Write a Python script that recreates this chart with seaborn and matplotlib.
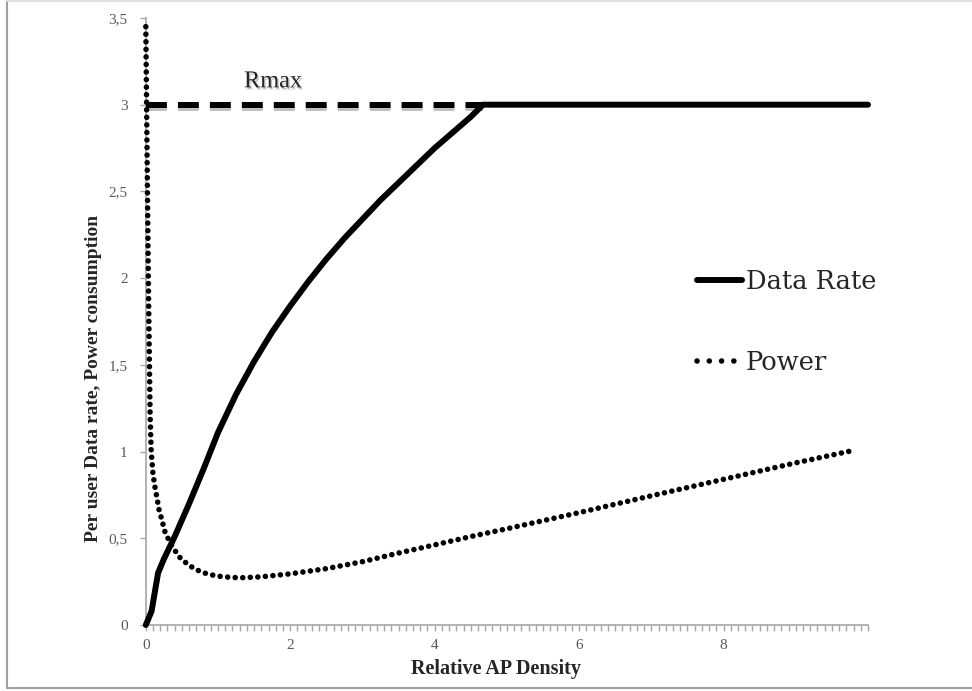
import pandas as pd
import seaborn as sns
import matplotlib.pyplot as plt
import matplotlib.patheffects as pe
from matplotlib.lines import Line2D
from matplotlib.ticker import FixedLocator, MultipleLocator, FixedFormatter

# Values
rate_x = [0.0, 0.08, 0.17, 0.25, 0.4, 0.6, 0.8, 1.0, 1.25, 1.5, 1.75, 2.0, 2.25, 2.5, 2.75,
          3.0, 3.25, 3.5, 3.75, 4.0, 4.25, 4.5, 4.67, 10.0]
rate_y = [0.0, 0.08, 0.30, 0.38, 0.51, 0.70, 0.90, 1.11, 1.33, 1.52, 1.69, 1.84, 1.98, 2.11, 2.23,
          2.34, 2.45, 2.55, 2.65, 2.75, 2.84, 2.93, 3.0, 3.0]

power_x = [0.0, 0.035, 0.06, 0.075, 0.1, 0.125, 0.16, 0.18, 0.22, 0.27, 0.37, 0.47, 0.58, 0.68, 0.78,
           0.88, 0.98, 1.08, 1.18, 1.3, 1.6, 2.0, 2.5, 3.0, 3.5, 4.0, 4.5, 5.0, 6.0, 7.0, 8.0, 9.0, 9.78]
power_y = [3.45, 2.0, 1.2, 1.0, 0.87, 0.80, 0.72, 0.67, 0.61, 0.53, 0.45, 0.39, 0.35, 0.323, 0.304,
           0.292, 0.283, 0.278, 0.275, 0.272, 0.278, 0.295, 0.325, 0.365, 0.415, 0.462, 0.51, 0.555,
           0.648, 0.745, 0.84, 0.935, 1.005]

rmax_x = [0.0, 4.67]
rmax_y = [3.0, 3.0]

x_ticks = [0, 2, 4, 6, 8]
y_ticks = [0, 0.5, 1, 1.5, 2, 2.5, 3, 3.5]
y_tick_labels = ["0", "0,5", "1", "1,5", "2", "2,5", "3", "3,5"]

rate = pd.DataFrame({"x": rate_x, "y": rate_y})
power = pd.DataFrame({"x": power_x, "y": power_y})
rmax = pd.DataFrame({"x": rmax_x, "y": rmax_y})

sns.set_style("white")
plt.rcParams['font.family'] = ['Liberation Serif', 'DejaVu Serif']

fig = plt.figure(figsize=(9.72, 6.91), dpi=100)
ax = fig.add_axes([0.150, 0.0955, 0.743, 0.8785])

# Rmax dashed line with a soft shadow
sns.lineplot(data=rmax, x="x", y="y", ax=ax, color="black", linewidth=4.3,
             linestyle=(0, (3.5, 1.85)), dash_capstyle="butt", clip_on=False,
             path_effects=[pe.SimpleLineShadow(offset=(0, -2.5), shadow_color="#b0b0b0", alpha=0.8),
                           pe.Normal()])

# dots sit on the axis line, so keep them unclipped
sns.lineplot(data=power, x="x", y="y", ax=ax, color="black", linewidth=4.0,
             linestyle=(0, (0.01, 1.35)), dash_capstyle="round", clip_on=False)

sns.lineplot(data=rate, x="x", y="y", ax=ax, color="black", linewidth=4.3,
             solid_joinstyle="round", clip_on=False)

ax.text(1.36, 3.10, "Rmax", fontsize=17.5, va="baseline", ha="left",
        path_effects=[pe.withSimplePatchShadow(offset=(1, -1.5), shadow_rgbFace="#999999", alpha=0.6)])

ax.set_xlim(0, 10)
ax.set_ylim(0, 3.5)

ax.xaxis.set_major_locator(FixedLocator(x_ticks))
ax.xaxis.set_minor_locator(MultipleLocator(0.1))
ax.yaxis.set_major_locator(FixedLocator(y_ticks))
ax.yaxis.set_major_formatter(FixedFormatter(y_tick_labels))

ax.tick_params(axis="both", which="both", bottom=True, left=True, direction="out",
               length=4, width=1, color="#a6a6a6", labelsize=11, labelcolor="#595959")
ax.tick_params(axis="y", pad=9)
ax.tick_params(axis="x", pad=6)
ax.tick_params(axis="y", which="minor", left=False)

for s in ["top", "right"]:
    ax.spines[s].set_visible(False)
for s in ["left", "bottom"]:
    ax.spines[s].set_color("#a6a6a6")
    ax.spines[s].set_linewidth(1.2)
    ax.spines[s].set_zorder(0.5)

ax.set_xlabel("Relative AP Density", fontsize=14.5, fontweight="bold", va="top")
ax.xaxis.set_label_coords(0.4855, -0.056)
ax.set_ylabel("Per user Data rate, Power consumption", fontsize=14, fontweight="bold")
ax.yaxis.set_label_coords(-0.06, 0.407)

# legend samples: thick solid line and a few big dots
rate_handle = Line2D([], [], color="black", linewidth=4.3, solid_capstyle="round")
power_handle = Line2D([], [], color="black", linewidth=4.0,
                      linestyle=(0, (0.01, 2.2)), dash_capstyle="round")
ax.legend(handles=[rate_handle, power_handle], labels=["Data Rate", "Power"],
          loc="upper left", bbox_to_anchor=(0.717, 0.61), bbox_transform=fig.transFigure,
          frameon=False, prop={"family": "DejaVu Serif", "size": 18.5},
          handlelength=1.75, handletextpad=0.15, labelspacing=2.15,
          borderaxespad=0, borderpad=0)

# chart-area border (left, top, bottom)
fig.add_artist(Line2D([0.0077, 0.0077], [0.005, 1.0], color="#a0a0a0", linewidth=1.5))
fig.add_artist(Line2D([0.0077, 1.0], [0.005, 0.005], color="#a0a0a0", linewidth=1.5))
fig.add_artist(Line2D([0.0077, 1.0], [0.999, 0.999], color="#e0e0e0", linewidth=1.5))

fig.savefig("out.png", dpi=100)
